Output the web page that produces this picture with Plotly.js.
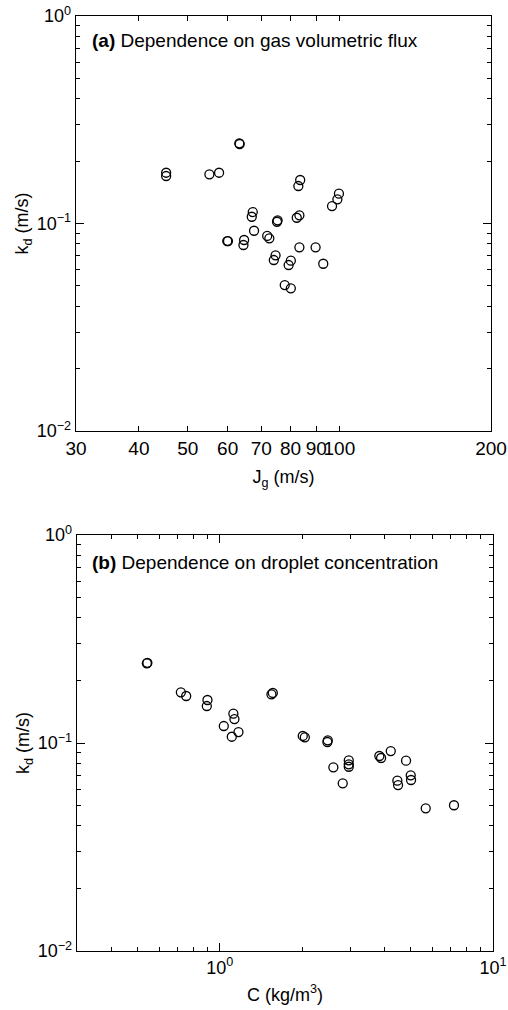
<!DOCTYPE html>
<html>
<head>
<meta charset="utf-8">
<script src="https://cdn.plot.ly/plotly-3.0.1.min.js"></script>
<style>html,body{margin:0;padding:0;background:#fff;}#chart{width:508px;height:1010px;}</style>
</head>
<body>
<div id="chart"></div>
<script>
// Panel (a): k_d vs gas volumetric flux J_g
const jg = [45.3, 45.3, 55.2, 57.7, 63.3, 63.4, 59.9, 60.1, 64.7, 64.5, 67.3, 67.0, 67.7, 71.9, 72.6, 75.4, 75.2, 74.1, 74.7, 79.3, 80.1, 77.9, 80.1, 83.3, 82.3, 83.6, 82.9, 83.3, 89.7, 92.9, 96.7, 99.1, 99.8];
const kdA = [0.1757, 0.1694, 0.1726, 0.1757, 0.2435, 0.2416, 0.0823, 0.0823, 0.0833, 0.0788, 0.1136, 0.1078, 0.0923, 0.0871, 0.0849, 0.1036, 0.1020, 0.0667, 0.0703, 0.0631, 0.0662, 0.0505, 0.0487, 0.1095, 0.1066, 0.1621, 0.1516, 0.0768, 0.0768, 0.0640, 0.1214, 0.1308, 0.1392];

// Panel (b): k_d vs droplet concentration C
const conc = [0.5405, 0.543, 0.720, 0.753, 0.901, 0.896, 1.563, 1.545, 1.121, 1.131, 1.034, 1.170, 1.106, 2.012, 2.047, 2.484, 2.476, 2.604, 2.965, 2.965, 2.965, 2.818, 3.837, 3.893, 4.224, 4.805, 4.465, 4.492, 4.999, 5.012, 5.672, 7.198];
const kdB = [0.2416, 0.2430, 0.1753, 0.1683, 0.1610, 0.1506, 0.1740, 0.1715, 0.1383, 0.1304, 0.1207, 0.1129, 0.1072, 0.1081, 0.1065, 0.1030, 0.1011, 0.0764, 0.0826, 0.0790, 0.0769, 0.0640, 0.0866, 0.0847, 0.0915, 0.0822, 0.0659, 0.0628, 0.0699, 0.0664, 0.0485, 0.0502];

const jgTicks = [30, 40, 50, 60, 70, 80, 90, 100, 200];
const jgTickText = ['30', '40', '50', '60', '70', '80', '90', '100', '200'];
const kdTicks = [0.01, 0.1, 1];
const kdTickText = ['10<sup>\u22122</sup>', '10<sup>\u22121</sup>', '10<sup>0</sup>'];
const cTicks = [1, 10];
const cTickText = ['10<sup>0</sup>', '10<sup>1</sup>'];
const kdMinor = [0.02,0.03,0.04,0.05,0.06,0.07,0.08,0.09,0.2,0.3,0.4,0.5,0.6,0.7,0.8,0.9];
const cMinor = [0.3,0.4,0.5,0.6,0.7,0.8,0.9,2,3,4,5,6,7,8,9];

const FONT = 'Liberation Sans, Arial, Helvetica, sans-serif';
const marker = {symbol: 'circle-open', size: 9, color: '#000', line: {color: '#000', width: 1.3}};

const traces = [
  {x: jg, y: kdA, type: 'scatter', mode: 'markers', marker: marker, xaxis: 'x', yaxis: 'y', showlegend: false},
  {x: conc, y: kdB, type: 'scatter', mode: 'markers', marker: marker, xaxis: 'x2', yaxis: 'y2', showlegend: false}
];

const axBase = {
  showgrid: false, zeroline: false, showline: true, linecolor: '#000', linewidth: 1.3,
  mirror: 'allticks', ticks: 'inside', tickcolor: '#000', tickwidth: 1, ticklen: 5, tickangle: 0,
  tickfont: {family: FONT, size: 18, color: '#000'}
};
const titleFont = {family: FONT, size: 18, color: '#000'};

const layout = {
  width: 508, height: 1010,
  margin: {l: 76, r: 15, t: 16, b: 59},
  paper_bgcolor: '#fff', plot_bgcolor: '#fff',
  font: {family: FONT, color: '#000'},
  xaxis: Object.assign({}, axBase, {
    type: 'log', range: [Math.log10(30), Math.log10(200)], domain: [0, 0.9952], anchor: 'y',
    tickmode: 'array', tickvals: jgTicks, ticktext: jgTickText,
    tickfont: {family: FONT, size: 19, color: '#000'},
    title: {text: 'J<sub>g</sub> (m/s)', font: titleFont, standoff: 12}
  }),
  yaxis: Object.assign({}, axBase, {
    type: 'log', range: [-2, 0], domain: [0.5561, 1], anchor: 'x',
    tickmode: 'array', tickvals: kdTicks, ticktext: kdTickText, ticklen: 8,
    minor: {tickmode: 'array', tickvals: kdMinor, ticks: 'inside', ticklen: 4, tickcolor: '#000', showgrid: false},
    title: {text: 'k<sub>d</sub> (m/s)', font: titleFont, standoff: 3}
  }),
  xaxis2: Object.assign({}, axBase, {
    type: 'log', range: [Math.log10(0.3), 1], domain: [0.0024, 1], anchor: 'y2',
    tickmode: 'array', tickvals: cTicks, ticktext: cTickText, ticklen: 8,
    minor: {tickmode: 'array', tickvals: cMinor, ticks: 'inside', ticklen: 4, tickcolor: '#000', showgrid: false},
    title: {text: 'C (kg/m<sup>3</sup>)', font: titleFont, standoff: 11}
  }),
  yaxis2: Object.assign({}, axBase, {
    type: 'log', range: [-2, 0], domain: [0, 0.4449], anchor: 'x2',
    tickmode: 'array', tickvals: kdTicks, ticktext: kdTickText, ticklen: 8,
    minor: {tickmode: 'array', tickvals: kdMinor, ticks: 'inside', ticklen: 4, tickcolor: '#000', showgrid: false},
    title: {text: 'k<sub>d</sub> (m/s)', font: titleFont, standoff: 3}
  }),
  annotations: [
    {xref: 'x domain', yref: 'y domain', x: 0.034, y: 0.942, xanchor: 'left', yanchor: 'middle', showarrow: false,
     text: '<b>(a)</b> Dependence on gas volumetric flux', font: {family: FONT, size: 19, color: '#000'}},
    {xref: 'x2 domain', yref: 'y2 domain', x: 0.031, y: 0.933, xanchor: 'left', yanchor: 'middle', showarrow: false,
     text: '<b>(b)</b> Dependence on droplet concentration', font: {family: FONT, size: 19, color: '#000'}}
  ]
};

Plotly.newPlot('chart', traces, layout, {staticPlot: true, displayModeBar: false});
</script>
</body>
</html>
